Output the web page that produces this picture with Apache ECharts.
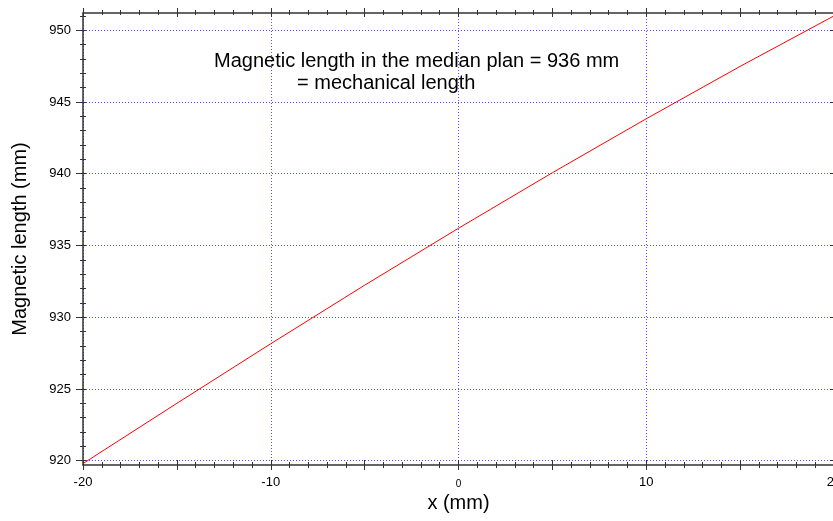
<!DOCTYPE html>
<html><head><meta charset="utf-8">
<script src="https://cdn.jsdelivr.net/npm/echarts@6/dist/echarts.min.js"></script>
<style>html,body{margin:0;padding:0;background:#fff}#c{width:833px;height:521px}</style>
</head><body><div id="c"></div>
<script>
// ---- data ----
const xValues   = [-20, -15, -10, -5, 0, 5, 10, 15, 20];
const magLength = [919.8, 924.0, 928.15, 932.23, 936.2, 940.07, 943.83, 947.48, 951.0];
const xLabelTicks = [-20, -10, 0, 10, 20];
const xMajorTicks = [-20, -15, -10, -5, 0, 5, 10, 15, 20];
const yLabelTicks = [920, 925, 930, 935, 940, 945, 950];
const xMinorTicks = []; for (let v = -20; v <= 20; v++) xMinorTicks.push(v);
const yMinorTicks = []; for (let v = 920; v <= 951; v++) yMinorTicks.push(v);
const annotationLines = ['Magnetic length in the median plan = 936 mm', '= mechanical length'];
const xTitle = 'x (mm)';
const yTitle = 'Magnetic length (mm)';
const X_MIN = -20, X_MAX = 20, Y_MIN = 919.7, Y_MAX = 951.2;

const FONT = "'Liberation Sans', Arial, Helvetica, sans-serif";
const AXIS_COLOR = '#333';
const GRID_COLOR = 'rgb(80,80,255)';

function tickX(pos, values, len, offset) {
  return {
    type: 'value', position: pos, min: X_MIN, max: X_MAX, offset: offset,
    axisLine: { show: false, onZero: false },
    axisLabel: { show: false }, splitLine: { show: false },
    axisTick: { show: true, customValues: values, length: len, inside: false,
                lineStyle: { color: AXIS_COLOR, width: 1 } }
  };
}
function tickY(pos, values, len, offset, inside) {
  return {
    type: 'value', position: pos, min: Y_MIN, max: Y_MAX, offset: offset,
    axisLine: { show: false, onZero: false },
    axisLabel: { show: false }, splitLine: { show: false },
    axisTick: { show: true, customValues: values, length: len, inside: !!inside,
                lineStyle: { color: AXIS_COLOR, width: 1 } }
  };
}

const chart = echarts.init(document.getElementById('c'), null, { renderer: 'canvas' });
chart.setOption({
  animation: false,
  backgroundColor: '#fff',
  textStyle: { fontFamily: FONT },
  grid: { left: 83, top: 13, width: 751, height: 452, containLabel: false, outerBoundsMode: 'none' },
  xAxis: [
    {
      type: 'value', position: 'bottom', min: X_MIN, max: X_MAX, interval: 10,
      name: xTitle, nameLocation: 'middle', nameGap: 27,
      nameTextStyle: { fontSize: 20, color: '#000', fontFamily: FONT },
      axisLine: { show: true, onZero: false, lineStyle: { color: AXIS_COLOR, width: 1.5 } },
      axisTick: { show: false },
      axisLabel: {
        show: true, fontSize: 13, color: '#000', margin: 11, fontFamily: FONT,
        hideOverlap: false, showMaxLabel: true, showMinLabel: true,
        formatter: v => (v === 0 ? '{s|0}' : String(v)),
        rich: { s: { fontSize: 10, padding: [3, 0, 0, 0], color: '#000', fontFamily: FONT } }
      },
      splitLine: { show: true, lineStyle: { color: GRID_COLOR, type: [1, 2], width: 1, opacity: 1 } }
    },
    tickX('bottom', xMinorTicks, 6, -3),
    tickX('bottom', xMajorTicks, 10, -5),
    {
      type: 'value', position: 'top', min: X_MIN, max: X_MAX,
      axisLine: { show: true, onZero: false, lineStyle: { color: AXIS_COLOR, width: 1.5 } },
      axisTick: { show: false }, axisLabel: { show: false }, splitLine: { show: false }
    },
    tickX('top', xMinorTicks, 5, -2),
    tickX('top', xMajorTicks, 9, -4)
  ],
  yAxis: [
    {
      type: 'value', position: 'left', min: Y_MIN, max: Y_MAX,
      name: yTitle, nameLocation: 'middle', nameGap: 53,
      nameTextStyle: { fontSize: 20, color: '#000', fontFamily: FONT },
      axisLine: { show: true, onZero: false, lineStyle: { color: AXIS_COLOR, width: 1.5 } },
      axisTick: { show: false, customValues: yLabelTicks },
      axisLabel: { show: true, customValues: yLabelTicks, fontSize: 13, color: '#000', margin: 12, fontFamily: FONT },
      splitLine: { show: true, lineStyle: { color: GRID_COLOR, type: [1, 2], width: 1, opacity: 1 } }
    },
    tickY('left', yMinorTicks, 6, -3),
    tickY('left', yLabelTicks, 10, -3),
    {
      type: 'value', position: 'right', min: Y_MIN, max: Y_MAX,
      axisLine: { show: true, onZero: false, lineStyle: { color: AXIS_COLOR, width: 1.5 } },
      axisTick: { show: true, customValues: yLabelTicks, inside: true, length: 4, lineStyle: { color: AXIS_COLOR } },
      axisLabel: { show: false }, splitLine: { show: false }
    }
  ],
  series: [{
    type: 'line',
    xAxisIndex: 0, yAxisIndex: 0,
    data: xValues.map((x, i) => [x, magLength[i]]),
    showSymbol: false, symbol: 'none',
    lineStyle: { color: '#ff0000', width: 1 },
    z: 5
  }],
  graphic: [
    { type: 'text', left: 214, top: 51,
      style: { text: annotationLines[0], fontSize: 20, fontFamily: FONT, fill: '#000' } },
    { type: 'text', left: 297, top: 73,
      style: { text: annotationLines[1], fontSize: 20, fontFamily: FONT, fill: '#000' } }
  ]
});
</script></body></html>
